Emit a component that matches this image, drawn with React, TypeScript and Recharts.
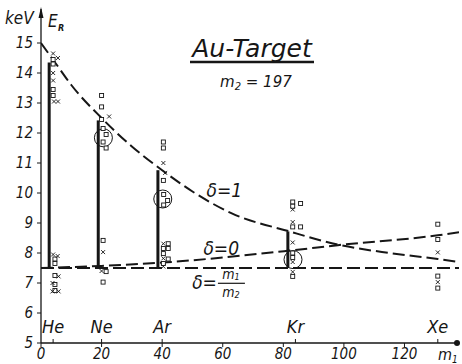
import React from 'react';
import { ComposedChart, Line, Scatter, XAxis, YAxis, ReferenceLine, ReferenceDot } from 'recharts';

const HAND = "'Liberation Sans Narrow', 'DejaVu Sans Condensed', 'DejaVu Sans', sans-serif";
const TITLE = "'DejaVu Sans', sans-serif";
const INK = '#161616';

// calculated recoil energy curves (m1 in amu, E in keV)
const delta1Mass = [0, 5, 10, 20, 30, 40, 50, 63, 82, 98, 115, 131, 138];
const delta1Energy = [15.0, 14.3, 13.6, 12.5, 11.55, 10.76, 10.05, 9.32, 8.72, 8.28, 8.0, 7.8, 7.7];
const delta0Mass = [0, 20, 40, 82, 98, 131, 138];
const delta0Energy = [7.5, 7.57, 7.68, 8.08, 8.26, 8.59, 8.69];
const deltaRatioMass = [0, 138];
const deltaRatioEnergy = [7.5, 7.5];

// measured ranges (thick vertical bars)
const barMass = [2.7, 18.9, 38.6, 81.5];
const barTop = [14.35, 12.42, 10.76, 8.72];
const barBase = 7.5;

// circled mean values
const circleMass = [20.6, 40.2, 83.2];
const circleEnergy = [11.84, 9.8, 7.78];

// projectiles
const elementNames = ['He', 'Ne', 'Ar', 'Kr', 'Xe'];
const elementMass = [4, 20, 40, 84, 131];

// single measurements: squares and crosses, [m1, E]
const heSquares = [[4, 14.45], [4, 14.3], [4, 13.45], [4, 13.25], [4.6, 7.8], [4.6, 7.65], [4.6, 7.25], [4.6, 6.95], [4.6, 6.75]];
const heCrosses = [[4, 14.65], [5.6, 14.5], [4, 14.0], [4, 13.75], [4.3, 13.05], [5.6, 13.05], [4, 7.95], [5.5, 7.9], [5.8, 7.22], [3.8, 7.0], [3.8, 6.72], [5.8, 6.72]];
const neSquares = [[20, 13.25], [20, 12.87], [20, 12.45], [20.5, 12.15], [21.5, 11.95], [20.5, 11.7], [21.5, 11.5], [20.5, 8.42], [21.5, 7.38], [20.5, 7.03]];
const neCrosses = [[22.5, 12.55], [20.5, 8.03], [20, 7.4]];
const arSquares = [[40.4, 11.7], [40.4, 11.5], [40.4, 10.42], [40.5, 9.95], [41.8, 9.75], [40.5, 9.6], [42, 8.31], [40.4, 8.15], [42, 8.15], [40.4, 7.98], [42, 7.8], [40.4, 7.65]];
const arCrosses = [[40.4, 11.0], [41, 10.67], [40.4, 8.31], [40.4, 7.82], [40.4, 7.55]];
const krSquares = [[83.1, 9.7], [83.1, 9.56], [85.7, 9.65], [83.1, 8.87], [85.7, 8.87], [83.1, 8.0], [83.1, 7.85], [83.1, 7.22]];
const krCrosses = [[83.1, 9.45], [83.1, 9.03], [83.1, 8.35], [83.1, 7.7], [83.1, 7.37]];
const xeSquares = [[131, 8.96], [131, 8.45], [131, 7.23], [131, 6.83]];
const xeCrosses = [[131, 8.02], [131, 7.03]];

const xTicks = [0, 20, 40, 60, 80, 100, 120];
const yTicks = [5, 6, 7, 8, 9, 10, 11, 12, 13, 14, 15];

const toPoints = (ms: number[], es: number[]) => ms.map((m, i) => ({ m, E: es[i] }));
const pairs = (list: number[][]) => list.map(([m, E]) => ({ m, E }));

const delta1 = toPoints(delta1Mass, delta1Energy);
const delta0 = toPoints(delta0Mass, delta0Energy);
const deltaRatio = toPoints(deltaRatioMass, deltaRatioEnergy);
const squares = pairs([...heSquares, ...neSquares, ...arSquares, ...krSquares, ...xeSquares]);
const crosses = pairs([...heCrosses, ...neCrosses, ...arCrosses, ...krCrosses, ...xeCrosses]);
const elements = elementNames.map((name, i) => ({ m: elementMass[i], E: 5, name }));
const curveLabels = [
  { m: 60.5, E: 9.86, text: 'δ=1' },
  { m: 59.5, E: 7.92, text: 'δ=0' },
  { m: 62.7, E: 6.99, text: 'ratio' },
];

const Square = (p: any) => (
  <rect x={p.cx - 2} y={p.cy - 2} width={4} height={4} fill="#fff" stroke={INK} strokeWidth={0.9} />
);
const Cross = (p: any) => (
  <path
    d={`M${p.cx - 2},${p.cy - 2}L${p.cx + 2},${p.cy + 2}M${p.cx + 2},${p.cy - 2}L${p.cx - 2},${p.cy + 2}`}
    stroke={INK}
    strokeWidth={0.9}
  />
);
const ElementMark = (p: any) => (
  <g>
    <line x1={p.cx} y1={p.cy} x2={p.cx} y2={p.cy - 4} stroke={INK} strokeWidth={1} />
    <text x={p.cx} y={p.cy - 10} textAnchor="middle" fontSize={18} fontStyle="italic" fontFamily={HAND} fill={INK}>
      {p.payload.name}
    </text>
  </g>
);
const CurveLabel = (p: any) => {
  const t = p.payload.text;
  if (t === 'ratio') {
    return (
      <g fontFamily={HAND} fontStyle="italic" fill={INK}>
        <text x={p.cx - 14} y={p.cy + 6} textAnchor="end" fontSize={19}>δ=</text>
        <text x={p.cx} y={p.cy - 4} textAnchor="middle" fontSize={14}>m<tspan fontSize={9} dy={1}>1</tspan></text>
        <line x1={p.cx - 13} y1={p.cy} x2={p.cx + 14} y2={p.cy} stroke={INK} strokeWidth={1.2} />
        <text x={p.cx} y={p.cy + 14} textAnchor="middle" fontSize={14}>m<tspan fontSize={9} dy={1}>2</tspan></text>
      </g>
    );
  }
  return (
    <text x={p.cx} y={p.cy} textAnchor="middle" fontSize={19} fontStyle="italic" fontFamily={HAND} fill={INK}>
      {t}
    </text>
  );
};

const tickFont = { fontSize: 15, fontStyle: 'italic', fontFamily: HAND, fill: INK };

export default function App() {
  return (
    <div style={{ position: 'absolute', left: 0, top: 0, width: 462, height: 364, background: '#fff' }}>
      <ComposedChart width={462} height={364} margin={{ top: 13, right: 3, left: 0, bottom: 0 }}>
        <XAxis
          type="number"
          dataKey="m"
          domain={[0, 138]}
          ticks={xTicks}
          allowDataOverflow
          height={21}
          tickSize={4}
          tickMargin={1}
          axisLine={{ stroke: INK, strokeWidth: 1.3 }}
          tickLine={{ stroke: INK }}
          tick={tickFont}
        />
        <YAxis
          type="number"
          dataKey="E"
          domain={[5, 16]}
          ticks={yTicks}
          allowDataOverflow
          width={41}
          tickSize={4}
          tickMargin={4}
          axisLine={{ stroke: INK, strokeWidth: 1.3 }}
          tickLine={{ stroke: INK }}
          tick={tickFont}
        />
        {barMass.map((m, i) => (
          <ReferenceLine
            key={'bar' + i}
            segment={[{ x: m, y: barBase }, { x: m, y: barTop[i] }]}
            stroke={INK}
            strokeWidth={3}
          />
        ))}
        <Line data={delta1} dataKey="E" type="monotone" stroke={INK} strokeWidth={2} strokeDasharray="12 5" dot={false} isAnimationActive={false} />
        <Line data={delta0} dataKey="E" type="monotone" stroke={INK} strokeWidth={2} strokeDasharray="12 5" dot={false} isAnimationActive={false} />
        <Line data={deltaRatio} dataKey="E" type="linear" stroke={INK} strokeWidth={2} strokeDasharray="13 5" dot={false} isAnimationActive={false} />
        {circleMass.map((m, i) => (
          <ReferenceDot key={'c' + i} x={m} y={circleEnergy[i]} r={9} fill="none" stroke={INK} strokeWidth={1} />
        ))}
        <Scatter data={squares} dataKey="E" shape={Square} isAnimationActive={false} />
        <Scatter data={crosses} dataKey="E" shape={Cross} isAnimationActive={false} />
        <Scatter data={elements} dataKey="E" shape={ElementMark} isAnimationActive={false} />
        <Scatter data={curveLabels} dataKey="E" shape={CurveLabel} isAnimationActive={false} />
      </ComposedChart>
      <svg width={462} height={364} style={{ position: 'absolute', left: 0, top: 0, pointerEvents: 'none' }}>
        <line x1={41} y1={14} x2={41} y2={9} stroke={INK} strokeWidth={1.3} />
        <path d="M38.5,18 L41,7 L43.5,18 Z" fill={INK} />
        <circle cx={457} cy={343} r={3} fill={INK} />
        <g fontFamily={HAND} fontStyle="italic" fill={INK}>
          <text x={5} y={24} fontSize={17}>keV</text>
          <text x={48} y={27} fontSize={17}>E</text>
          <text x={58} y={31} fontSize={9} fontWeight="bold">R</text>
          <text x={438} y={360} fontSize={16}>m<tspan fontSize={10} dy={3}>1</tspan></text>
        </g>
        <g fontFamily={TITLE} fontStyle="italic" fill={INK}>
          <text x={252} y={57} fontSize={25} textAnchor="middle">Au-Target</text>
          <text x={220} y={87} fontSize={15}>m<tspan fontSize={10} dy={3}>2</tspan><tspan dy={-3}> = 197</tspan></text>
        </g>
        <line x1={190} y1={62} x2={314} y2={62} stroke={INK} strokeWidth={2.5} />
      </svg>
    </div>
  );
}
